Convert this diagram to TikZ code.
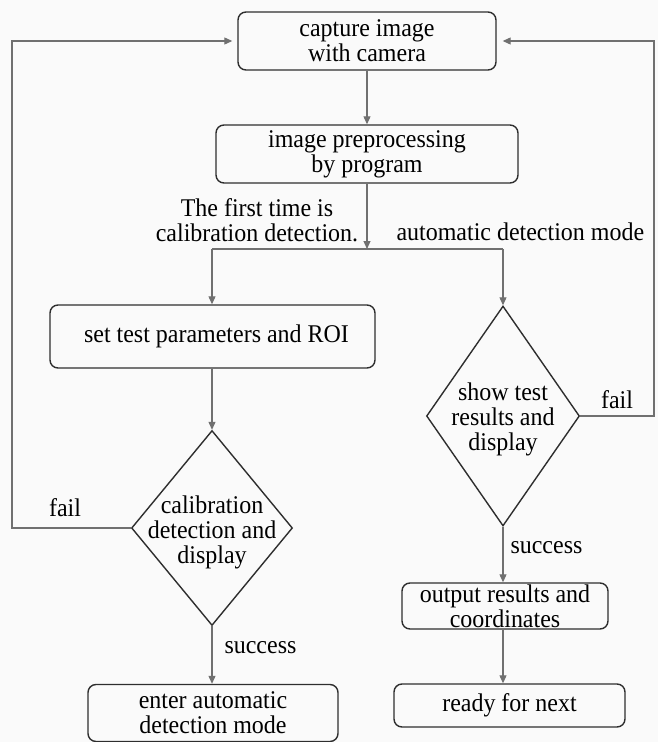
\documentclass[tikz,border=0pt]{standalone}
\usepackage{fontspec}
\setmainfont[FakeStretch=0.94]{Liberation Serif}
\usetikzlibrary{shapes.geometric,arrows.meta}
\definecolor{linegray}{HTML}{707070}
\definecolor{boxline}{HTML}{2E2E2E}
\definecolor{bgcol}{HTML}{FAFAFA}
\begin{document}
\begin{tikzpicture}[x=1pt,y=-1pt,
  txt/.style={font=\fontsize{25.5}{25}\selectfont, align=center, text=black},
  procbox/.style={txt, draw=boxline, line width=1.4pt, rounded corners=8pt, rectangle, inner sep=0pt},
  decision/.style={draw=boxline, line width=1.4pt, diamond, inner sep=0pt},
  conn/.style={draw=linegray, line width=1.1pt},
  arr/.style={conn, -{Triangle[length=8pt,width=7pt]}},
]
\fill[bgcol] (0,0) rectangle (658,742);
\useasboundingbox (0,0) rectangle (658,742);

% process boxes
\node[procbox, minimum width=258pt, minimum height=58pt] (b1) at (367,41) {capture image\\with camera};
\node[procbox, minimum width=302pt, minimum height=58pt] (b2) at (367,154) {image preprocessing\\by program};
\node[procbox, minimum width=325pt, minimum height=63pt] (b3) at (212.5,336.5) {\hspace*{8pt}set test parameters and ROI};
\node[procbox, minimum width=250pt, minimum height=57pt] (b4) at (213,713) {enter automatic\\detection mode};
\node[procbox, minimum width=206pt, minimum height=46pt] (b5) at (505,606) {output results and\\coordinates};
\node[procbox, minimum width=231pt, minimum height=43pt] (b6) at (509.5,705.5) {ready for next};

% decisions
\node[decision, minimum width=161pt, minimum height=195pt,
      label={[txt, yshift=-4pt]center:{calibration\\detection and\\display}}] (dL) at (212,528) {};
\node[decision, minimum width=153pt, minimum height=220pt,
      label={[txt, yshift=-3pt]center:{show test\\results and\\display}}] (dR) at (503,416) {};

% junction
\coordinate (j) at (367,249);
\coordinate (jl) at (212,249);
\coordinate (jr) at (503,249);
\coordinate (lc) at (12,528);
\coordinate (rc) at (654,416);

% connectors
\draw[arr] (b1.south) -- (b1.south |- b2.north);
\draw[arr] (b2.south) -- (j);
\draw[conn] (jl) -- (jr);
\draw[arr] (jl) -- (jl |- b3.north);
\draw[arr] (jr) -- (dR.north);
\draw[arr] (b3.south -| dL.north) -- (dL.north);
\draw[arr] (dL.south) -- (dL.south |- b4.north);
\draw[arr] (dR.south) -- (dR.south |- b5.north);
\draw[arr] (dR.south |- b5.south) -- (dR.south |- b6.north);
\draw[arr, shorten >=5pt] (dL.west) -- (lc) |- (b1.west);
\draw[arr, shorten >=6pt] (dR.east) -- (rc) |- (b1.east);

% labels
\node[txt] (t1) at (257,220) {The first time is\\calibration detection.};
\node[txt, anchor=west] (t2) at (393,232) {automatic detection mode};
\node[txt] (f1) at (65,508) {fail};
\node[txt] (f2) at (617,400) {fail};
\node[txt, anchor=west] (s1) at (221,648) {success};
\node[txt, anchor=west] (s2) at (507,548) {success};
\end{tikzpicture}
\end{document}
